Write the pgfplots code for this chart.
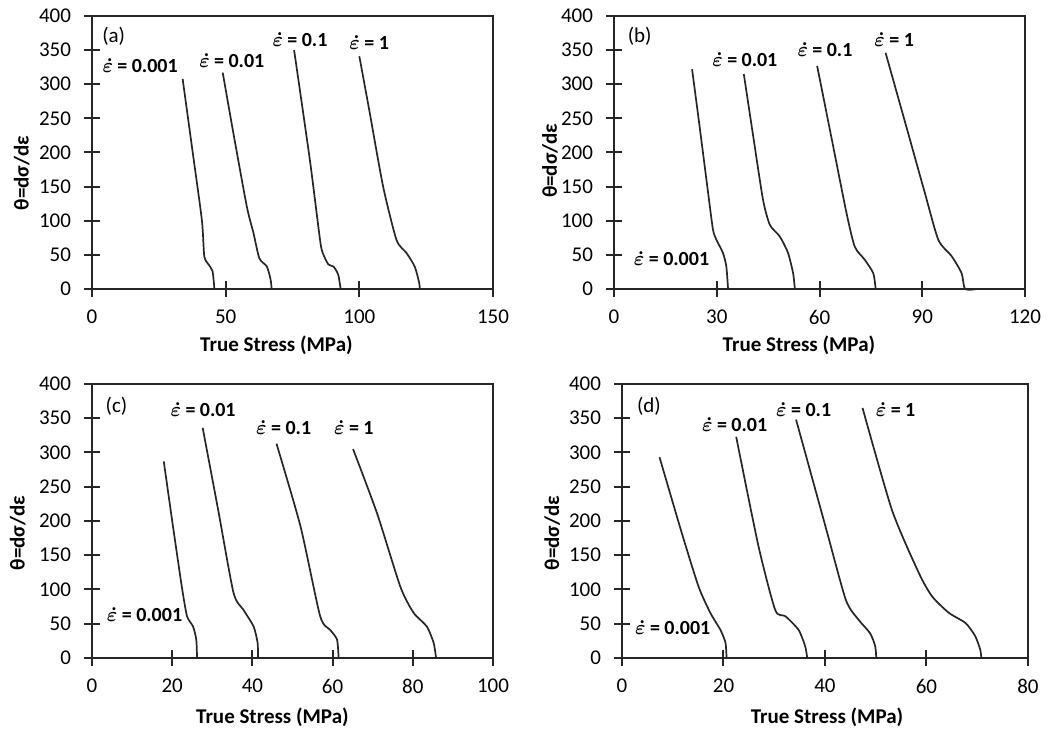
\documentclass[border=0pt]{standalone}
\usepackage{pgfplots}
\pgfplotsset{compat=1.18}
\usepackage{fontspec}
\setmainfont{Carlito}
\tikzset{lab/.style={font=\fontsize{10}{12}\selectfont, inner sep=1pt}}
\pgfplotsset{panel/.style={
  scale only axis,
  ymin=0, ymax=400, ytick={0,50,...,400},
  axis line style={line width=1pt, black!85},
  tick align=center, major tick length=8pt,
  tick pos=left,
  every tick/.style={line width=1pt, black!85},
  ticklabel style={font=\fontsize{10.5}{12}\selectfont},
  xticklabel style={yshift=-3pt},
  yticklabel style={xshift=-3pt},
  /pgf/number format/assume math mode=true,
  xlabel={\textbf{True Stress (MPa)}},
  ylabel={\textbf{θ=dσ/dε}},
  label style={font=\fontsize{10.5}{12}\selectfont},
  every axis plot post/.append style={black!85, line width=0.85pt, mark=none, smooth, tension=0.4},
  clip=false,
}}
\newcommand{\ed}[1]{{\boldmath$\dot{\varepsilon}$}\kern2.2pt\textbf{=}\kern2.2pt\textbf{#1}}
\begin{document}
\begin{tikzpicture}
\path[use as bounding box] (0,0) rectangle (525.5pt,-365.5pt);
% (a)
\begin{axis}[panel, at={(46pt,-144.5pt)}, anchor=south west, width=200.5pt, height=136.5pt,
  xmin=0, xmax=150, xtick={0,50,100,150},
  xlabel style={at={(axis description cs:0.46,0)}, anchor=center, yshift=-28pt},
  ylabel style={at={(axis description cs:-0.175,0.425)}, anchor=center}]
\addplot coordinates {(33.9,308) (37.5,205) (41.1,101) (42.0,48) (43.6,36) (45.1,26) (45.7,4) (45.8,0)};
\addplot coordinates {(48.9,317) (52.9,228) (57.9,121) (60.4,82) (62.6,45) (65.4,33) (66.8,14) (67.2,0)};
\addplot coordinates {(75.6,350) (81.5,189) (85.3,72) (86.3,53) (88.4,36) (90.3,33) (92.1,21) (93.0,0)};
\addplot coordinates {(100.0,341) (103.9,258) (108.9,150) (113.9,72) (117.6,53) (120.7,33) (122.4,9) (122.6,0)};
\node[lab] at (axis cs:18,328) {\ed{0.001}};
\node[lab] at (axis cs:52.3,335) {\ed{0.01}};
\node[lab] at (axis cs:77.8,365) {\ed{0.1}};
\node[lab] at (axis cs:103.7,361) {\ed{1}};
\node[lab, font=\fontsize{10.5}{12}\selectfont] at (axis cs:8.1,370) {(a)};
\end{axis}
% (b)
\begin{axis}[panel, at={(307pt,-144.5pt)}, anchor=south west, width=205.5pt, height=136.5pt,
  xmin=0, xmax=120, xtick={0,30,60,90,120},
  xlabel style={at={(axis description cs:0.45,0)}, anchor=center, yshift=-28pt},
  ylabel style={at={(axis description cs:-0.156,0.47)}, anchor=center}]
\addplot coordinates {(22.8,322) (25.2,230) (27.5,140) (28.9,87) (29.9,72) (31.8,53) (32.8,33) (33.3,0)};
\addplot coordinates {(37.9,315) (40.7,222) (43.5,131) (45.5,94) (48.4,77) (50.8,53) (52.3,23) (52.8,0)};
\addplot coordinates {(59.3,327) (63.6,219) (67.9,111) (70.3,62) (73.2,43) (75.7,23) (76.4,0)};
\addplot coordinates {(79.3,346) (85.9,228) (90.8,140) (94.7,72) (98.6,48) (101.5,23) (102.5,0) (106,0)};
\node[lab] at (axis cs:16.8,45) {\ed{0.001}};
\node[lab] at (axis cs:38.2,336) {\ed{0.01}};
\node[lab] at (axis cs:61.6,350) {\ed{0.1}};
\node[lab] at (axis cs:81.8,366) {\ed{1}};
\node[lab, font=\fontsize{10.5}{12}\selectfont] at (axis cs:7.5,370) {(b)};
\end{axis}
% (c)
\begin{axis}[panel, at={(46pt,-329pt)}, anchor=south west, width=200.5pt, height=137pt,
  xmin=0, xmax=100, xtick={0,20,...,100},
  xlabel style={at={(axis description cs:0.45,0)}, anchor=center, yshift=-29.5pt},
  ylabel style={at={(axis description cs:-0.185,0.456)}, anchor=center}]
\addplot coordinates {(17.9,287) (20.1,196) (22.4,104) (23.7,61) (25.2,46) (26.0,27) (26.2,0)};
\addplot coordinates {(27.6,336) (31.5,215) (35.3,95) (37.8,70) (40.3,46) (41.3,22) (41.4,0)};
\addplot coordinates {(46.0,313) (52.0,192) (56.9,61) (59.4,41) (61.1,27) (61.5,0)};
\addplot coordinates {(65.1,305) (71.1,211) (76.9,104) (80.2,66) (83.5,46) (85.2,22) (85.8,0)};
\node[lab] at (axis cs:13.1,63) {\ed{0.001}};
\node[lab] at (axis cs:27.7,363) {\ed{0.01}};
\node[lab] at (axis cs:47.8,337) {\ed{0.1}};
\node[lab] at (axis cs:65.3,337) {\ed{1}};
\node[lab, font=\fontsize{10.5}{12}\selectfont] at (axis cs:6.1,367) {(c)};
\end{axis}
% (d)
\begin{axis}[panel, at={(311pt,-329pt)}, anchor=south west, width=203pt, height=137pt,
  xmin=0, xmax=80, xtick={0,20,...,80},
  xlabel style={at={(axis description cs:0.505,0)}, anchor=center, yshift=-29.5pt},
  ylabel style={at={(axis description cs:-0.172,0.456)}, anchor=center}]
\addplot coordinates {(7.4,293) (11.8,182) (15.1,104) (17.4,66) (19.4,41) (20.4,22) (20.6,0)};
\addplot coordinates {(22.5,323) (26.9,163) (30.2,70) (32.2,61) (34.8,41) (36.1,17) (36.5,0)};
\addplot coordinates {(34.3,348) (40.1,192) (44.1,85) (46.6,56) (48.9,36) (49.9,17) (50.1,0)};
\addplot coordinates {(47.4,365) (53.2,216) (58.5,124) (61.1,90) (64.4,66) (67.7,51) (69.6,32) (70.6,12) (70.8,0)};
\node[lab] at (axis cs:10.0,44) {\ed{0.001}};
\node[lab] at (axis cs:22.2,340) {\ed{0.01}};
\node[lab] at (axis cs:35.8,362) {\ed{0.1}};
\node[lab] at (axis cs:53.9,362) {\ed{1}};
\node[lab, font=\fontsize{10.5}{12}\selectfont] at (axis cs:5.3,367) {(d)};
\end{axis}
\end{tikzpicture}
\end{document}
